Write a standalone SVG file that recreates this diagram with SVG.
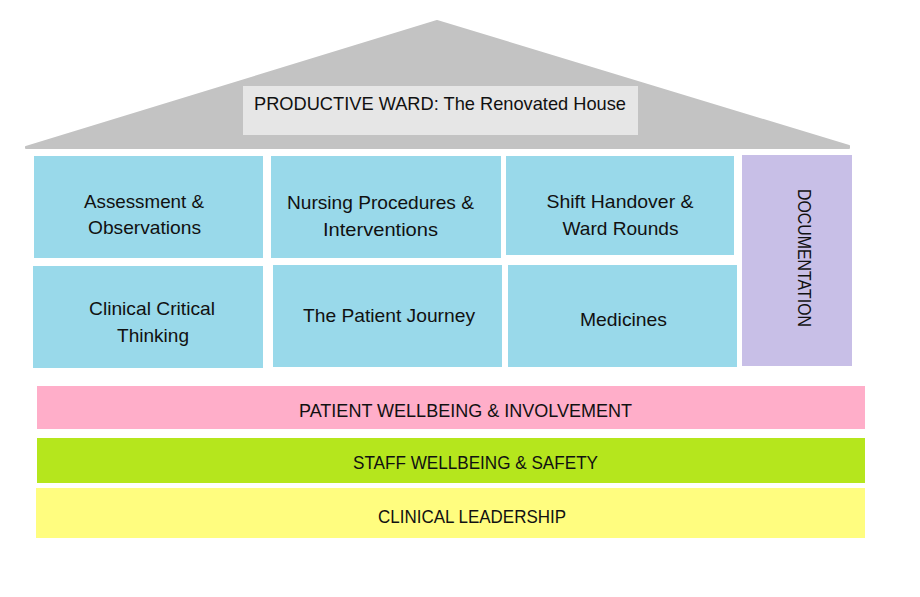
<svg xmlns="http://www.w3.org/2000/svg" width="920" height="597" viewBox="0 0 920 597">
<style>
text{font-family:"Liberation Sans",Arial,sans-serif;fill:#111;text-anchor:middle;font-size:18.5px}
.box{fill:#99d9ea}
</style>
<rect width="920" height="597" fill="#fff"/>
<g id="roof">
<polygon points="26,147 437,21 849,146 849,148 26,148" fill="#c3c3c3" stroke="#c3c3c3" stroke-width="2" stroke-linejoin="round"/>
</g>
<g id="title">
<rect x="243" y="86" width="395" height="49" fill="#e6e6e6"/>
<text x="440" y="110" textLength="372" lengthAdjust="spacingAndGlyphs">PRODUCTIVE WARD: The Renovated House</text>
</g>
<g id="assessment">
<rect class="box" x="34" y="156" width="229" height="102"/>
<text x="144" y="208" textLength="120" lengthAdjust="spacingAndGlyphs">Assessment &amp;</text>
<text x="144.5" y="234" textLength="113" lengthAdjust="spacingAndGlyphs">Observations</text>
</g>
<g id="nursing">
<rect class="box" x="271" y="156" width="230" height="102"/>
<text x="380.5" y="209" textLength="187" lengthAdjust="spacingAndGlyphs">Nursing Procedures &amp;</text>
<text x="380.5" y="236" textLength="115" lengthAdjust="spacingAndGlyphs">Interventions</text>
</g>
<g id="shift">
<rect class="box" x="506" y="156" width="228" height="99"/>
<text x="620" y="208" textLength="147" lengthAdjust="spacingAndGlyphs">Shift Handover &amp;</text>
<text x="620.5" y="235" textLength="116" lengthAdjust="spacingAndGlyphs">Ward Rounds</text>
</g>
<g id="documentation">
<rect x="742" y="155" width="110" height="211" fill="#c8bfe7"/>
<text transform="translate(798,258) rotate(90)" font-size="17" textLength="138" lengthAdjust="spacingAndGlyphs" x="0" y="0">DOCUMENTATION</text>
</g>
<g id="critical">
<rect class="box" x="33" y="266" width="230" height="102"/>
<text x="152" y="315" textLength="126" lengthAdjust="spacingAndGlyphs">Clinical Critical</text>
<text x="153" y="342" textLength="72" lengthAdjust="spacingAndGlyphs">Thinking</text>
</g>
<g id="journey">
<rect class="box" x="273" y="265" width="229" height="102"/>
<text x="389" y="322" textLength="172" lengthAdjust="spacingAndGlyphs">The Patient Journey</text>
</g>
<g id="medicines">
<rect class="box" x="508" y="265" width="229" height="102"/>
<text x="623.5" y="326" textLength="87" lengthAdjust="spacingAndGlyphs">Medicines</text>
</g>
<g id="patient">
<rect x="37" y="386" width="828" height="43" fill="#ffaec9"/>
<text x="465.5" y="417" textLength="333" lengthAdjust="spacingAndGlyphs">PATIENT WELLBEING &amp; INVOLVEMENT</text>
</g>
<g id="staff">
<rect x="37" y="438" width="828" height="45" fill="#b5e61d"/>
<text x="475.5" y="469" textLength="245" lengthAdjust="spacingAndGlyphs">STAFF WELLBEING &amp; SAFETY</text>
</g>
<g id="leadership">
<rect x="36" y="488" width="829" height="50" fill="#fffd7f"/>
<text x="472" y="523" textLength="188" lengthAdjust="spacingAndGlyphs">CLINICAL LEADERSHIP</text>
</g>
<g id="connectors"/>
</svg>
